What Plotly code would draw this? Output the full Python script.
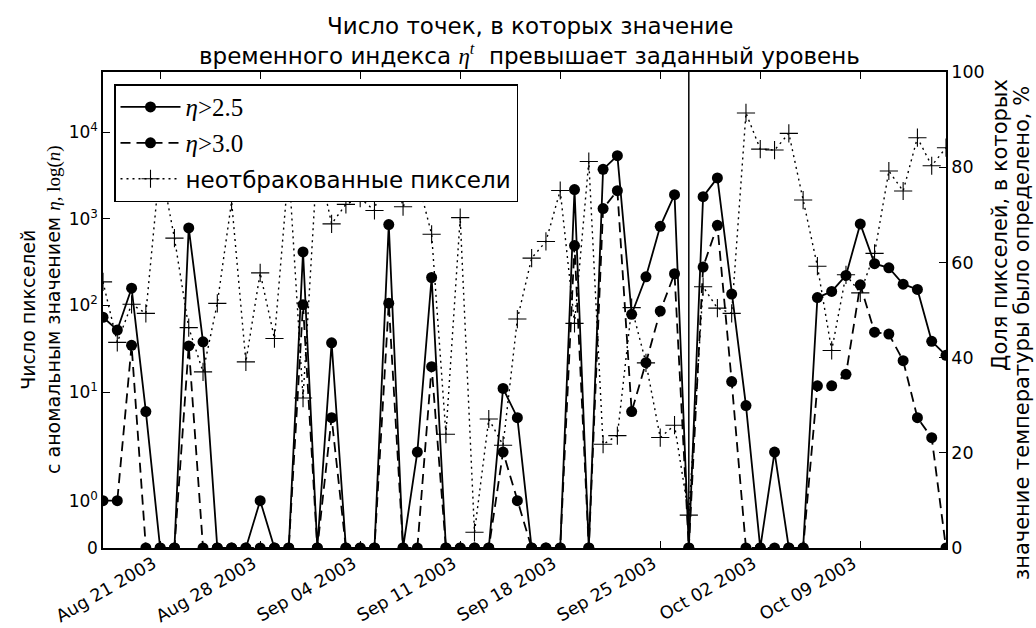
import numpy as np
import pandas as pd
import plotly.graph_objects as go

# ---------------- data ----------------
start_date = "2003-08-17"
n_days = 60
dates = pd.date_range(start_date, periods=n_days, freq="D")

# number of pixels with eta > 2.5
eta25 = [73, 52, 158, 6.6, 0, 0, 785, 38, 0, 0,
         0, 1, 0, 0, 415, 0, 37, 0, 0, 0,
         858, 0, 2.8, 210, 0, 0, 0, 0, 11, 5.8,
         0, 0, 0, 2175, 0, 3725, 5360, 79, 214, 819,
         1900, 0, 1803, 2965, 135, 7.5, 0, 2.8, 0, 0,
         123, 145, 222, 873, 303, 272, 176, 153, 38.5, 26.5]

# number of pixels with eta > 3.0
eta30 = [1, 1, 34.6, 0, 0, 0, 34, 0, 0, 0,
         0, 0, 0, 0, 102, 0, 5.8, 0, 0, 0,
         106, 0, 0, 19.6, 0, 0, 0, 0, 2.8, 1,
         0, 0, 0, 491, 0, 1312, 2115, 6.6, 21.8, 86,
         232, 0, 277, 841, 13.2, 0, 0, 0, 0, 0,
         11.8, 11.8, 16, 173, 49, 46.7, 23, 5.8, 3.8, 0]

# share of unrejected pixels, %
valid_pct = [55.9, 43.2, 51.2, 49.3, 81, 65.1, 46.3, 37.0, 51.4, 72.8,
             39.1, 57.8, 44.0, 80, 31.5, 82, 68.1, 72.2, 73.5, 70.9,
             84, 71.7, 77.7, 65.9, 23.9, 69.4, 3.3, 27.1, 21.6, 48.1,
             60.9, 64.4, 75.1, 47.2, 81.2, 21.8, 23.6, 50.5, 38.9, 23.2,
             25.8, 6.9, 54.9, 50.4, 49.3, 91.4, 83.8, 83.6, 87.1, 73.1,
             59.2, 41.5, 57.4, 53.6, 61.9, 79.2, 75.0, 86.2, 80.3, 84.1]

marker_date = "2003-09-27"   # vertical reference line

x_tick_dates = ["2003-08-21", "2003-08-28", "2003-09-04", "2003-09-11",
                "2003-09-18", "2003-09-25", "2003-10-02", "2003-10-09"]
x_tick_labels = ["Aug 21 2003", "Aug 28 2003", "Sep 04 2003", "Sep 11 2003",
                 "Sep 18 2003", "Sep 25 2003", "Oct 02 2003", "Oct 09 2003"]

left_tick_values = [0, 1, 10, 100, 1000, 10000]
left_tick_labels = ["0", "10<sup>0</sup>", "10<sup>1</sup>", "10<sup>2</sup>",
                    "10<sup>3</sup>", "10<sup>4</sup>"]
right_tick_values = [0, 20, 40, 60, 80, 100]

serif = "Liberation Serif"
sans = "DejaVu Sans"

title_lines = [
    "Число точек, в которых значение",
    ("временного индекса "
     f"<span style=\"font-family:'{serif}'\"><i>η</i><sup><i>t</i></sup></span>"
     "  превышает заданный уровень"),
]
left_title = ("Число пикселей<br>с аномальным значением "
              f"<span style=\"font-family:'{serif}'\"><i>η</i>, log(<i>n</i>)</span>")
right_title_lines = ["Доля пикселей, в которых",
                     "значение температуры было определено, %"]

# ---------------- symlog-like scale of the left axis ----------------
POS_ONE = 47.3      # position of n = 1
FIRST_DEC = 108.7   # length of the 1..10 span
DECADE = 86.6       # length of one decade above 10
TOP = 476.0


def sympos(n):
    n = np.asarray(n, dtype=float)
    out = np.zeros_like(n)
    m1 = (n > 0) & (n < 10)
    m2 = n >= 10
    out[m1] = POS_ONE + FIRST_DEC * np.log10(n[m1])
    out[m2] = POS_ONE + FIRST_DEC + DECADE * (np.log10(n[m2]) - 1)
    return out


fig = go.Figure()

fig.add_trace(go.Scatter(
    x=dates, y=sympos(eta25), mode="lines+markers",
    name=f"<span style=\"font-family:'{serif}';font-size:25px\"><i>η</i>&gt;2.5</span>",
    line=dict(color="black", width=1.8),
    marker=dict(symbol="circle", size=11, color="black"),
    legendgroup="a",
))
fig.add_trace(go.Scatter(
    x=dates, y=sympos(eta30), mode="lines+markers",
    name=f"<span style=\"font-family:'{serif}';font-size:25px\"><i>η</i>&gt;3.0</span>",
    line=dict(color="black", width=1.8, dash="10px,6px"),
    marker=dict(symbol="circle", size=11, color="black"),
    legendgroup="b",
))
fig.add_trace(go.Scatter(
    x=dates, y=valid_pct, mode="lines+markers", yaxis="y2",
    name="неотбракованные пиксели",
    line=dict(color="black", width=1.4, dash="2px,4px"),
    marker=dict(symbol="cross-thin", size=13, color="black",
                line=dict(width=1.1, color="black")),
    legendgroup="c",
))

fig.add_shape(type="line", xref="x", yref="y domain",
              x0=marker_date, x1=marker_date, y0=0, y1=1,
              line=dict(color="black", width=1.5))

# plot-area geometry in pixels
L, R, T, B = 103, 90, 72, 80
W, H = 1036, 628
pw, ph = W - L - R, H - T - B


def px_x(x):
    return (x - L) / pw


def px_y(y):
    return (H - B - y) / ph


annotations = [
    dict(text=title_lines[0], x=px_x(530), y=px_y(26), size=23, angle=0),
    dict(text=title_lines[1], x=px_x(529), y=px_y(55), size=23, angle=0),
    dict(text=left_title, x=px_x(41), y=0.5, size=19, angle=-90),
    dict(text=right_title_lines[0], x=px_x(1000), y=px_y(225), size=21, angle=-90),
    dict(text=right_title_lines[1], x=px_x(1022), y=px_y(333), size=21, angle=-90),
]
annotations = [dict(text=a["text"], x=a["x"], y=a["y"], textangle=a["angle"],
                    xref="paper", yref="paper", showarrow=False,
                    xanchor="center", yanchor="middle",
                    font=dict(size=a["size"], family=sans, color="black"))
               for a in annotations]

axis_common = dict(showline=True, linecolor="black", linewidth=1.5,
                   ticks="inside", tickcolor="black", ticklen=7, tickwidth=1,
                   showgrid=False, zeroline=False, automargin=False)

fig.update_layout(
    width=W, height=H,
    margin=dict(l=L, r=R, t=T, b=B),
    paper_bgcolor="white", plot_bgcolor="white",
    font=dict(family=sans, color="black", size=16),
    annotations=annotations,
    xaxis=dict(
        **axis_common, mirror="ticks", type="date",
        range=[dates[0], dates[-1]],
        tickvals=x_tick_dates, ticktext=x_tick_labels,
        tickangle=-30, tickfont=dict(size=17.5),
        ticklabelshift=-7, ticklabelstandoff=-3,
    ),
    yaxis=dict(
        **axis_common, range=[0, TOP],
        tickvals=list(sympos(left_tick_values)), ticktext=left_tick_labels,
        tickfont=dict(size=17),
    ),
    yaxis2=dict(
        **axis_common, overlaying="y", side="right", range=[0, 100],
        tickvals=right_tick_values, tickfont=dict(size=17.5),
    ),
    legend=dict(
        x=px_x(114), y=px_y(84), xanchor="left", yanchor="top",
        bgcolor="white", bordercolor="black", borderwidth=1.5,
        font=dict(size=23, family=sans), itemwidth=60,
        tracegroupgap=3,
    ),
    showlegend=True,
)

fig.write_html("out.html",
               config={"displayModeBar": False},
               post_script="document.body.style.margin='0';"
                           "document.body.style.overflow='hidden';")
